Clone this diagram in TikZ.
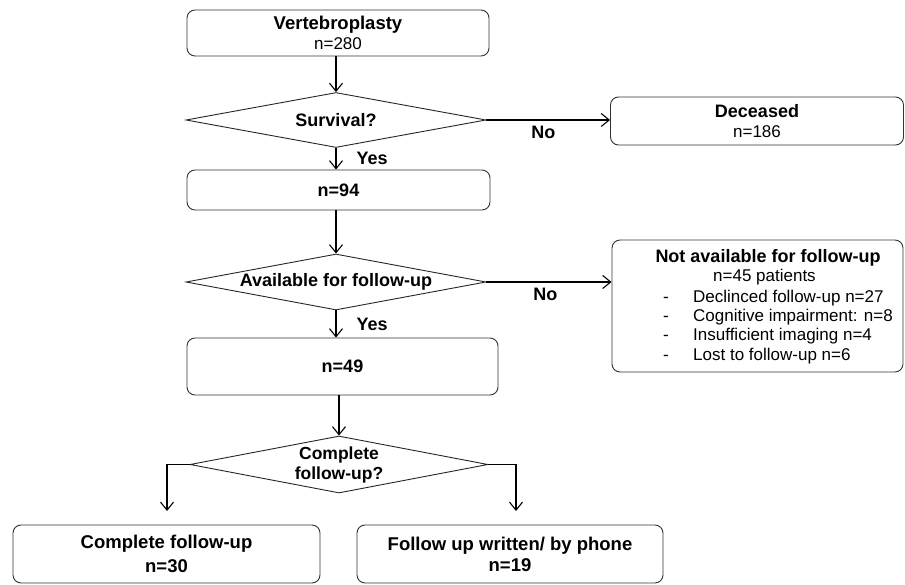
\documentclass[tikz,border=0pt]{standalone}
\usepackage{fontspec}
\setmainfont{Liberation Sans}
\usetikzlibrary{shapes.geometric,arrows.meta}
\newcommand{\bigb}{\fontsize{18}{21}\selectfont\bfseries}
\newcommand{\regf}{\fontsize{17}{20}\selectfont}
\begin{document}
\begin{tikzpicture}[x=1pt,y=-1pt,
  box/.style={draw=black!80,line width=0.9pt,rounded corners=8pt,inner sep=0pt,align=center,font=\regf},
  dia/.style={draw=black!85,line width=0.9pt,diamond,inner sep=0pt,aspect=5,align=center,font=\bigb},
  arr/.style={line width=1.1pt,-{Straight Barb[length=8pt,width=13pt,line width=1.1pt]}},
  lbl/.style={font=\bigb,inner sep=0pt}]
\useasboundingbox (0,0) rectangle (905,585);
\node[box,minimum width=302pt,minimum height=46pt] (vp) at (338,33) {{\fontsize{18.5}{21}\selectfont\bfseries Vertebroplasty}\\n=280};
\node[dia,minimum width=300pt,minimum height=55pt] (surv) at (336,120) {Survival?};
\node[box,minimum width=293pt,minimum height=48pt] (dec) at (757,121) {{\bigb Deceased}\\n=186};
\node[box,minimum width=303pt,minimum height=40pt,font=\bigb] (n94) at (338.5,190) {n=94};
\node[dia,minimum width=300pt,minimum height=56pt] (avail) at (336,282) {Available for follow-up};
\node[box,minimum width=291pt,minimum height=132pt] (na) at (757.5,306) {};
\node[lbl,anchor=base] (nat) at (768,263) {Not available for follow-up};
\node[font=\regf,anchor=base west,inner sep=0pt] (nap) at (713,282) {n=45 patients};
\foreach \yy/\tt [count=\i] in {303/Declinced follow-up n=27,322/Cognitive impairment: n=8,341/Insufficient imaging n=4,360.5/Lost to follow-up n=6}{
  \node[font=\regf,anchor=base west,inner sep=0pt] (dash\i) at (663,\yy) {-};
  \node[font=\regf,anchor=base west,inner sep=0pt] (item\i) at (693,\yy) {\tt};
}
\node[box,minimum width=311pt,minimum height=57pt,font=\bigb] (n49) at (342.5,366.5) {n=49};
\node[dia,minimum width=298pt,minimum height=57pt,font=\fontsize{17.5}{20}\selectfont\bfseries] (comp) at (339,464.5) {Complete\\follow-up?};
\node[box,minimum width=307pt,minimum height=58pt,font=\fontsize{18.5}{24}\selectfont\bfseries] (cf) at (166.5,554) {Complete follow-up\\n=30};
\node[box,minimum width=306pt,minimum height=58pt,font=\fontsize{18.5}{21}\selectfont\bfseries] (fw) at (510,554) {Follow up written/ by phone\\n=19};
\coordinate (cl) at (167,464.5);
\coordinate (cr) at (516,464.5);
\coordinate (cle) at (167,511);
\coordinate (cre) at (516,511);
\draw[arr] (vp.south -| surv.north) -- (surv.north);
\draw[arr] (surv.east) -- (dec.west |- surv.east) node[lbl,pos=0.46,below=6pt] {No};
\draw[arr] (surv.south) -- (surv.south |- n94.north) node[lbl,pos=0.5,right=20pt] {Yes};
\draw[arr] (n94.south -| avail.north) -- (avail.north);
\draw[arr] (avail.east) -- (na.west |- avail.east) node[lbl,pos=0.47,below=6pt] {No};
\draw[arr] (avail.south) -- (avail.south |- n49.north) node[lbl,pos=0.5,right=20pt] {Yes};
\draw[arr] (n49.south -| comp.north) -- (comp.north);
\draw[arr] (comp.west) -- (cl) -- (cle);
\draw[arr] (comp.east) -- (cr) -- (cre);
\end{tikzpicture}
\end{document}
